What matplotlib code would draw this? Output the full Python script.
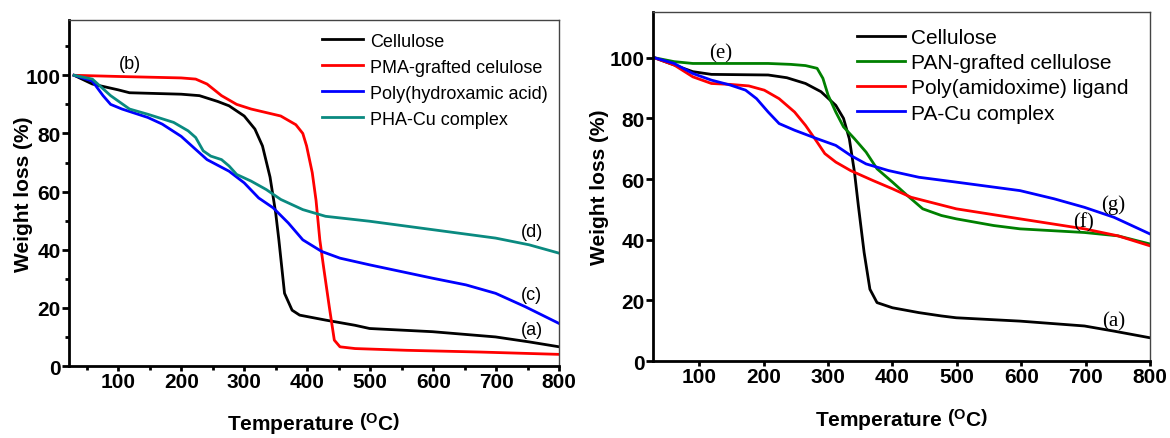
import numpy as np
import matplotlib
matplotlib.use('Agg')
import matplotlib.pyplot as plt
from matplotlib import rc
from matplotlib.ticker import MultipleLocator

rc('font', **{'family': 'Liberation Sans', 'size': 13})
rc('mathtext', **{'fontset': 'custom', 'rm': 'Liberation Sans:bold',
                  'it': 'Liberation Sans:bold', 'bf': 'Liberation Sans:bold'})

# ---- (left) PMA / hydroxamic acid series ----
t_cel = [30, 59, 100, 118, 200, 229, 258, 276, 300, 317, 329, 341, 350, 355, 364, 376, 388, 429, 476, 499, 599, 699, 752, 800]
w_cel = [100, 97, 95, 94, 93.5, 93, 91, 89.5, 86, 81.5, 75.7, 65, 52.6, 43.4, 25, 19.2, 17.5, 15.8, 14, 12.9, 11.8, 10, 8.3, 6.6]

t_pma = [30, 100, 200, 223, 241, 264, 288, 311, 358, 382, 393, 399, 408, 414, 420, 426, 435, 443, 452, 476, 558, 675, 800]
w_pma = [100, 99.6, 99.1, 98.7, 97, 93, 90, 88.4, 86, 83, 80, 75.7, 66.5, 57, 43.4, 34, 20.4, 8.9, 6.6, 6, 5.4, 4.8, 4]

t_pha = [30, 59, 76, 88, 106, 147, 170, 200, 223, 241, 276, 300, 323, 346, 370, 393, 423, 452, 499, 599, 652, 699, 746, 800]
w_pha = [100, 98, 93, 90, 88.4, 85.5, 83.2, 79, 74.5, 71, 67, 63, 57.8, 54.4, 49.2, 43.4, 39.4, 37.1, 34.8, 30.2, 27.9, 25, 20.4, 14.6]

t_phacu = [30, 59, 88, 118, 147, 188, 211, 223, 235, 247, 264, 276, 288, 311, 335, 358, 393, 429, 499, 599, 699, 752, 800]
w_phacu = [100, 98.7, 93, 88.4, 86.6, 83.8, 80.9, 78.6, 74, 72.2, 71, 68.8, 65.9, 63.6, 60.7, 57.3, 53.8, 51.5, 49.8, 46.9, 44, 41.7, 38.8]

# ---- (right) PAN / amidoxime series ----
t_cel2 = [30, 61, 90, 119, 207, 236, 265, 289, 312, 324, 333, 341, 347, 356, 365, 376, 400, 441, 476, 499, 598, 698, 744, 800]
w_cel2 = [100, 97.6, 95.4, 94.5, 94.3, 93.4, 91.5, 88.8, 84.3, 80, 73.3, 62.3, 51.3, 35.8, 23.7, 19.3, 17.6, 16, 14.9, 14.3, 13.2, 11.6, 9.9, 7.7]

t_pan = [30, 61, 90, 207, 242, 265, 283, 292, 300, 312, 324, 341, 359, 376, 400, 423, 447, 476, 499, 557, 598, 698, 750, 800]
w_pan = [100, 98.7, 98.1, 98.1, 97.8, 97.4, 96.5, 93.2, 87.7, 82.1, 77.2, 73.3, 68.9, 63.4, 59, 54.6, 50.2, 48, 46.9, 44.7, 43.6, 42.4, 41.3, 38.6]

t_pao = [30, 61, 90, 119, 148, 177, 201, 224, 248, 265, 283, 295, 312, 335, 370, 400, 429, 499, 598, 698, 750, 800]
w_pao = [100, 97.6, 93.7, 91.5, 91.2, 90.7, 89.3, 86.5, 82.1, 77.7, 72.2, 68.4, 65.6, 62.8, 59.5, 56.8, 54, 50.2, 46.9, 43.6, 41.3, 38]

t_pacu = [30, 61, 90, 119, 148, 172, 189, 207, 224, 248, 283, 312, 335, 359, 394, 441, 499, 598, 651, 698, 744, 800]
w_pacu = [100, 98.1, 94.8, 92.6, 91, 89.3, 86.5, 82.1, 78.3, 76.1, 73.3, 71.1, 67.8, 65, 62.8, 60.6, 59, 56.2, 53.5, 50.7, 47.4, 41.9]

fig = plt.figure(figsize=(11.7, 4.39), dpi=100)


def style_axes(ax, xlo, ytop, minor, ylab_x, xlab_y):
    ax.set_xlim(xlo, 800)
    ax.set_ylim(0, ytop)
    ax.xaxis.set_major_locator(MultipleLocator(100))
    ax.yaxis.set_major_locator(MultipleLocator(20))
    if minor:
        ax.xaxis.set_minor_locator(MultipleLocator(50))
        ax.yaxis.set_minor_locator(MultipleLocator(10))
    for s in ['left', 'bottom']:
        ax.spines[s].set_linewidth(2.0)
    for s in ['top', 'right']:
        ax.spines[s].set_linewidth(1.0)
        ax.spines[s].set_color('#444444')
    ax.tick_params(which='major', direction='out', width=2, labelsize=15,
                   pad=1, top=False, right=False)
    ax.tick_params(axis='y', which='major', length=5)
    ax.tick_params(axis='x', which='major', length=3.5)
    ax.tick_params(which='minor', direction='out', length=3, width=2,
                   top=False, right=False)
    for lab in ax.get_xticklabels() + ax.get_yticklabels():
        lab.set_fontweight('bold')
    ax.set_xlabel(r'Temperature $\left(^{O}C\right)$', fontsize=15, fontweight='bold')
    ax.set_ylabel('Weight loss (%)', fontsize=15, fontweight='bold')
    ax.yaxis.set_label_coords(ylab_x, 0.5)
    ax.xaxis.set_label_coords(0.5, xlab_y)


# ========================================================================
# left panel
ax = fig.add_axes([0.059, 0.164, 0.419, 0.788])
lw = 2.0
ax.plot(t_cel, w_cel, color='k', lw=lw, label='Cellulose')
ax.plot(t_pma, w_pma, color='#ff0000', lw=lw, label='PMA-grafted celulose')
ax.plot(t_pha, w_pha, color='#0000ff', lw=lw, label='Poly(hydroxamic acid)')
ax.plot(t_phacu, w_phacu, color='#0a8a80', lw=lw, label='PHA-Cu complex')
style_axes(ax, 22, 119, True, -0.074, -0.128)

ax.legend(loc='upper left', bbox_to_anchor=(0.49, 1.0), frameon=False, fontsize=13,
          handlelength=2.3, handletextpad=0.35, labelspacing=0.5, borderaxespad=0.3)

ax.text(119, 104, '(b)', fontsize=13, ha='center', va='center')
ax.text(756, 46.4, '(d)', fontsize=13, ha='center', va='center')
ax.text(756, 24.7, '(c)', fontsize=13, ha='center', va='center')
ax.text(756, 12.7, '(a)', fontsize=13, ha='center', va='center')

# ========================================================================
# right panel
ax = fig.add_axes([0.558, 0.175, 0.425, 0.795])
ax.plot(t_cel2, w_cel2, color='k', lw=lw, label='Cellulose')
ax.plot(t_pan, w_pan, color='#008000', lw=lw, label='PAN-grafted cellulose')
ax.plot(t_pao, w_pao, color='#ff0000', lw=lw, label='Poly(amidoxime) ligand')
ax.plot(t_pacu, w_pacu, color='#0000ff', lw=lw, label='PA-Cu complex')
style_axes(ax, 28, 115, False, -0.089, -0.13)

ax.legend(loc='upper left', bbox_to_anchor=(0.38, 1.0), frameon=False, fontsize=15,
          handlelength=2.3, handletextpad=0.25, labelspacing=0.3, borderaxespad=0.35)

serif = dict(family='Liberation Serif', fontsize=15, ha='center', va='center')
ax.text(134, 101.6, '(e)', **serif)
ax.text(743, 51.8, '(g)', **serif)
ax.text(696, 45.9, '(f)', **serif)
ax.text(744, 13.2, '(a)', **serif)

fig.savefig('out.png')
